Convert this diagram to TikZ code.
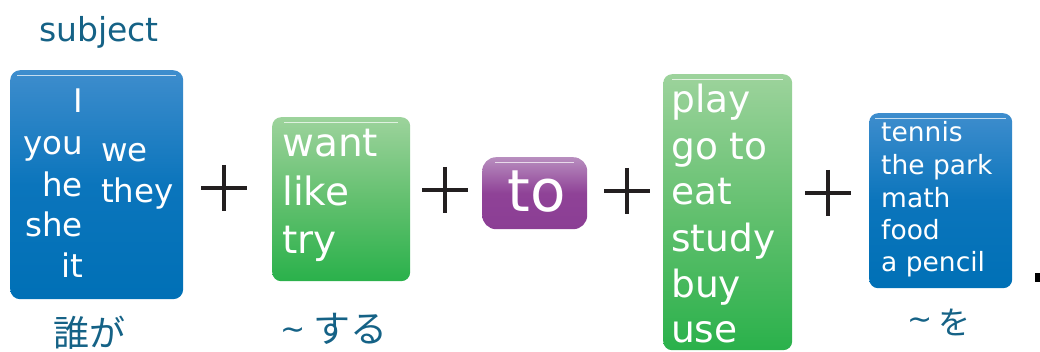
\documentclass[tikz,border=0pt]{standalone}
\usepackage{fontspec}
\setmainfont{DejaVu Sans}
\newfontfamily\cjk{Noto Sans CJK JP}
\definecolor{bluetop}{HTML}{3E8DCD}
\definecolor{bluemid}{HTML}{0B75BC}
\definecolor{bluebot}{HTML}{0070B6}
\definecolor{greentop}{HTML}{9DD39C}
\definecolor{greenmid}{HTML}{63C06F}
\definecolor{greenbot}{HTML}{2AB14B}
\definecolor{purptop}{HTML}{B88EBF}
\definecolor{purpmid}{HTML}{8F4297}
\definecolor{purpbot}{HTML}{8B3E94}
\definecolor{tealtxt}{HTML}{156286}
\definecolor{plusink}{HTML}{231F20}
\newcommand{\mytilde}[2]{\raisebox{#2}{\rmfamily\fontsize{#1}{#1}\selectfont\symbol{"007E}}}
\begin{document}
\begin{tikzpicture}[x=1pt,y=-1pt,
  boxbase/.style={rectangle, inner sep=0, anchor=north west, draw=none},
  bluebox/.style={boxbase, top color=bluetop, bottom color=bluebot, middle color=bluemid, rounded corners=10pt},
  greenbox/.style={boxbase, top color=greentop, bottom color=greenbot, middle color=greenmid, rounded corners=9pt},
  purpbox/.style={boxbase, top color=purptop, bottom color=purpbot, middle color=purpmid, rounded corners=14pt},
  hl/.style={draw=white, draw opacity=0.7, line width=1pt},
  word/.style={text=white, inner sep=0},
  wA/.style={word, font=\fontsize{32.5}{39}\selectfont},
  wB/.style={word, font=\fontsize{39}{46}\selectfont, anchor=base west},
  wD/.style={word, font=\fontsize{37.5}{45}\selectfont, anchor=base west},
  wE/.style={word, font=\fontsize{26.5}{32}\selectfont, anchor=base west},
  lbl/.style={text=tealtxt, inner sep=0, anchor=base},
  plussign/.style={draw=plusink, line width=3.3pt},
]
\useasboundingbox (0,0) rectangle (1040,352);

% boxes
\node[bluebox, minimum width=173pt, minimum height=229pt] (b1) at (10,70) {};
\node[greenbox, minimum width=138pt, minimum height=164pt] (b2) at (272,117) {};
\node[purpbox, minimum width=105pt, minimum height=72pt] (b3) at (482,157) {};
\node[greenbox, minimum width=129pt, minimum height=276pt] (b4) at (663,74) {};
\node[bluebox, minimum width=143pt, minimum height=175pt, rounded corners=9pt] (b5) at (869,113) {};

% highlight lines
\foreach \b/\s in {b1/7,b2/12,b3/13,b4/9,b5/6}{
  \draw[hl] ([xshift=\s pt,yshift=-6pt]\b.north west) -- ([xshift=-\s pt,yshift=-6pt]\b.north east);
}

% box 1 words
\node[wA, anchor=base east] (w1) at (83,113) {I};
\node[wA, anchor=base east] (w2) at (83,155) {you};
\node[wA, anchor=base east] (w3) at (83,197) {he};
\node[wA, anchor=base east] (w4) at (83,237) {she};
\node[wA, anchor=base east] (w5) at (83,278) {it};
\node[wA, anchor=base west] (w6) at (101,162) {we};
\node[wA, anchor=base west] (w7) at (101,203) {they};

% box 2 words
\node[wB] (v1) at (282,157) {want};
\node[wB] (v2) at (282,206) {like};
\node[wB] (v3) at (282,254) {try};

% box 3
\node[word, font=\fontsize{58}{64}\selectfont, anchor=base] (to) at (537,212) {to};

% box 4 words
\node[wD] (x1) at (671,113) {play};
\node[wD] (x2) at (671,160) {go to};
\node[wD] (x3) at (671,205) {eat};
\node[wD] (x4) at (671,252) {study};
\node[wD] (x5) at (671,298) {buy};
\node[wD] (x6) at (671,342) {use};

% box 5 words
\node[wE] (o1) at (881,142) {tennis};
\node[wE] (o2) at (881,175) {the park};
\node[wE] (o3) at (881,208) {math};
\node[wE] (o4) at (881,240) {food};
\node[wE] (o5) at (881,272) {a pencil};

% labels
\node[lbl, font=\fontsize{33}{40}\selectfont] (subj) at (99,42) {subject};
\node[lbl, font=\fontsize{36}{40}\cjk] (ja1) at (89,346) {誰が};
\node[lbl, font=\fontsize{37}{40}\cjk] (ja2) at (334,342) {\mytilde{30}{3pt}\hspace{7pt}する};
\node[lbl, font=\fontsize{32}{36}\cjk] (ja3) at (939,334) {\mytilde{30}{4.5pt}\hspace{6pt}を};

% plus signs
\coordinate (p1) at (224,188);
\coordinate (p2) at (445,190);
\coordinate (p3) at (627,191);
\coordinate (p4) at (828,193);
\foreach \p in {p1,p2,p3,p4}{
  \draw[plussign] ([xshift=-23pt]\p) -- ([xshift=23pt]\p);
  \draw[plussign] ([yshift=23pt]\p) -- ([yshift=-23pt]\p);
}

% cut-off period at right edge
\node[fill=black, inner sep=0, minimum width=5pt, minimum height=9pt, anchor=north west] (dot) at (1035,273) {};
\end{tikzpicture}
\end{document}
